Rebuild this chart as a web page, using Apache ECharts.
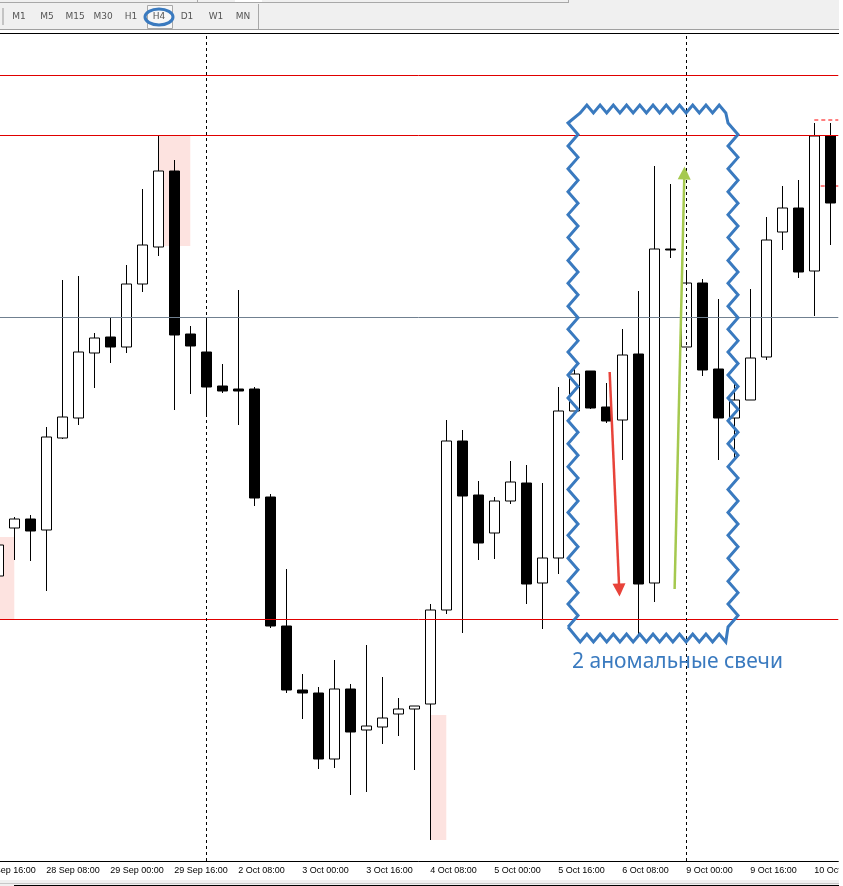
<!doctype html>
<html lang="en">
<head>
<meta charset="utf-8">
<title>H4 chart</title>
<script src="https://cdn.jsdelivr.net/npm/echarts@6/dist/echarts.min.js"></script>
<style>html,body{margin:0;padding:0;background:#fff}</style>
</head>
<body>
<div id="chart" style="width:839px;height:886px;"></div>
<script>
// first bar sits off the left edge, only its time label shows
var times = ['27 Sep 16:00','27 Sep 20:00','28 Sep 00:00','28 Sep 04:00','28 Sep 08:00','28 Sep 12:00','28 Sep 16:00','28 Sep 20:00',
  '29 Sep 00:00','29 Sep 04:00','29 Sep 08:00','29 Sep 12:00','29 Sep 16:00','29 Sep 20:00',
  '2 Oct 00:00','2 Oct 04:00','2 Oct 08:00','2 Oct 12:00','2 Oct 16:00','2 Oct 20:00',
  '3 Oct 00:00','3 Oct 04:00','3 Oct 08:00','3 Oct 12:00','3 Oct 16:00','3 Oct 20:00',
  '4 Oct 00:00','4 Oct 04:00','4 Oct 08:00','4 Oct 12:00','4 Oct 16:00','4 Oct 20:00',
  '5 Oct 00:00','5 Oct 04:00','5 Oct 08:00','5 Oct 12:00','5 Oct 16:00','5 Oct 20:00',
  '6 Oct 00:00','6 Oct 04:00','6 Oct 08:00','6 Oct 12:00','6 Oct 16:00','6 Oct 20:00',
  '9 Oct 00:00','9 Oct 04:00','9 Oct 08:00','9 Oct 12:00','9 Oct 16:00','9 Oct 20:00',
  '10 Oct 00:00','10 Oct 04:00','10 Oct 08:00','10 Oct 12:00'];

var open  = [null,285,333,342,331,423,443,508,524,514,577,614,690,527,509,475,472,472,364,235,171,168,102,172,131,134,147,152,157,251,420,366,328,360,378,278,303,450,490,454,441,507,278,612,514,578,492,443,461,504,629,653,590,725];
var close = [null,316,342,330,424,444,509,523,514,577,616,690,526,515,474,470,470,363,235,171,168,102,172,129,135,143,152,155,251,420,365,318,360,379,277,303,450,487,453,440,506,277,612,611,578,491,443,461,503,621,653,589,725,658];
var low   = [null,271,301,300,270,422,436,473,498,508,569,605,451,467,447,468,436,355,233,168,142,92,93,66,69,117,125,91,21,247,228,301,302,357,257,232,287,450,452,438,401,227,259,603,514,485,401,403,461,501,611,583,545,616];
var high  = [null,321,344,346,434,581,585,528,543,596,672,726,701,535,540,497,571,474,367,292,187,174,201,177,216,184,163,155,257,441,431,380,364,400,396,378,474,493,490,478,532,570,695,677,588,582,562,478,572,644,675,681,738,738];

var levels = [786, 726, 544, 242];
var levelColors = ['#e00000', '#e00000', '#708090', '#e00000'];
var separators = ['2 Oct 00:00', '9 Oct 00:00'];
var stopLevels = [[52.5, 741], [52.9, 675]];

var zones = [
  ['29 Sep 12:00', '29 Sep 20:00', 726, 615],
  ['27 Sep 20:00', '28 Sep 00:00', 324, 242],
  ['4 Oct 08:00', '4 Oct 12:00', 146, 21]
];

var periods = ['M1','M5','M15','M30','H1','H4','D1','W1','MN'];
var periodX = [19,47,75,103,131,159,187,216,243];

var candles = times.map(function (t, i) {
  return open[i] === null ? ['-','-','-','-'] : [open[i], close[i], low[i], high[i]];
});

// hand drawn wavy frame, decoration only, in bar units across and price units up
var BAR = 16;
function wavy(x0, y0, x1, y1, n, amp) {
  var pts = [];
  for (var i = 0; i <= n; i++) {
    var f = i / n, s = i % 2 ? amp : -amp;
    var horizontal = y0 === y1;
    pts.push([x0 + (x1 - x0) * f + (horizontal ? 0 : s / BAR), y0 + (y1 - y0) * f + (horizontal ? s : 0)]);
  }
  return pts;
}
var L = 37.42, R = 47.42, T = 752, B = 223;
var frame = [].concat(
  wavy(L, 234, L, 738, 44, 5),
  wavy(L + 0.45, T, R - 0.45, T, 22, 4),
  wavy(R, 738, R, 234, 44, 5),
  wavy(R - 0.45, B, L + 0.45, B, 22, 4)
);
frame.push(frame[0]);

var chrome = [
  {type:'rect', shape:{x:0,y:0,width:839,height:29}, style:{fill:'#f0f0f0'}},
  {type:'rect', shape:{x:0,y:2,width:568,height:1}, style:{fill:'#a8a8a8'}},
  {type:'rect', shape:{x:568,y:0,width:1,height:3}, style:{fill:'#a8a8a8'}},
  {type:'rect', shape:{x:197,y:0,width:1,height:2}, style:{fill:'#a8a8a8'}},
  {type:'rect', shape:{x:235,y:0,width:27,height:2}, style:{fill:'#fff'}},
  {type:'rect', shape:{x:0,y:29,width:839,height:1}, style:{fill:'#a0a0a0'}},
  {type:'rect', shape:{x:0,y:33,width:839,height:1}, style:{fill:'#000'}},
  {type:'rect', shape:{x:258,y:4,width:1,height:25}, style:{fill:'#a8a8a8'}},
  {type:'rect', shape:{x:2,y:8,width:2,height:17}, style:{fill:'#c4c4c4'}},
  {type:'rect', shape:{x:147.5,y:5.5,width:25,height:23}, style:{fill:'#f7f7f7',stroke:'#a8a8a8',lineWidth:1}},
  {type:'rect', shape:{x:0,y:880,width:839,height:6}, style:{fill:'#f0f0f0'}},
  {type:'rect', shape:{x:0,y:883,width:839,height:1}, style:{fill:'#c8c8c8'}},
  {type:'rect', shape:{x:14,y:885,width:825,height:1}, style:{fill:'#000'}}
];
periods.forEach(function (p, i) {
  chrome.push({type:'text', x:periodX[i], y:17, style:{text:p, fill:'#555', font:'9px "DejaVu Sans"', align:'center', verticalAlign:'middle'}});
});
chrome.push({type:'ellipse', shape:{cx:159,cy:17,rx:14,ry:8}, style:{fill:'none',stroke:'#3a7abf',lineWidth:3}});
chrome.push({type:'text', x:572, y:662, z:10, style:{text:'2 аномальные свечи', fill:'#3a7abf', font:'21px "Noto Sans"', align:'left', verticalAlign:'middle'}});

var myChart = echarts.init(document.getElementById('chart'));
myChart.setOption({
  animation: false,
  graphic: chrome,
  grid: {left: -25.7, top: 33, width: 54 * BAR, height: 828, containLabel: false, outerBoundsMode: 'none'},
  xAxis: [
    {
      type: 'category',
      data: times,
      axisLine: {lineStyle: {color: '#000', width: 1}},
      axisTick: {alignWithLabel: true, interval: 3, length: 3, lineStyle: {color: '#000'}},
      axisLabel: {interval: 3, align: 'left', margin: 5, color: '#000', fontSize: 9, fontFamily: 'Liberation Sans', hideOverlap: false, showMinLabel: true},
      splitLine: {show: false}
    },
    {type: 'value', min: 0, max: 54, show: false}
  ],
  yAxis: {type: 'value', min: 0, max: 828, show: false, splitLine: {show: false}},
  series: [
    {
      name: 'zones', type: 'line', z: 1, data: [], silent: true,
      markArea: {
        silent: true,
        itemStyle: {color: '#fde3e0'},
        data: zones.map(function (a) { return [{xAxis: a[0], yAxis: a[2]}, {xAxis: a[1], yAxis: a[3]}]; })
      }
    },
    {
      name: 'levels', type: 'line', z: 2, data: [], silent: true,
      markLine: {
        silent: true, symbol: 'none', label: {show: false},
        data: levels.map(function (v, i) {
          return {yAxis: v, lineStyle: {color: levelColors[i], width: 1, type: 'solid'}};
        }).concat(separators.map(function (t) {
          return {xAxis: t, lineStyle: {color: '#000', width: 1, type: [3, 3]}};
        }))
      }
    }
  ].concat(stopLevels.map(function (s) {
    return {
      type: 'line', xAxisIndex: 1, z: 2, silent: true, showSymbol: false,
      lineStyle: {color: '#f00', width: 1, type: [4, 3]},
      data: [[s[0], s[1]], [54, s[1]]]
    };
  })).concat([
    {
      name: 'H4', type: 'candlestick', z: 3, barWidth: 10, data: candles, silent: true,
      itemStyle: {color: '#fff', color0: '#000', borderColor: '#000', borderColor0: '#000', borderWidth: 1}
    },
    {
      name: 'arrows', type: 'line', xAxisIndex: 1, z: 5, data: [], silent: true,
      markLine: {
        silent: true, symbol: ['none', 'triangle'], symbolSize: 13, label: {show: false},
        data: [
          [{coord: [39.71, 489], lineStyle: {color: '#e8433a', width: 2.5, type: 'solid'}, itemStyle: {color: '#e8433a'}}, {coord: [40.31, 271]}],
          [{coord: [43.77, 272], lineStyle: {color: '#a5c94f', width: 2.5, type: 'solid'}, itemStyle: {color: '#a5c94f'}}, {coord: [44.38, 688]}]
        ]
      }
    },
    {
      name: 'frame', type: 'line', xAxisIndex: 1, z: 6, silent: true, showSymbol: false,
      data: frame, lineStyle: {color: '#3a7abf', width: 3, join: 'miter'}
    }
  ])
});
</script>
</body>
</html>
